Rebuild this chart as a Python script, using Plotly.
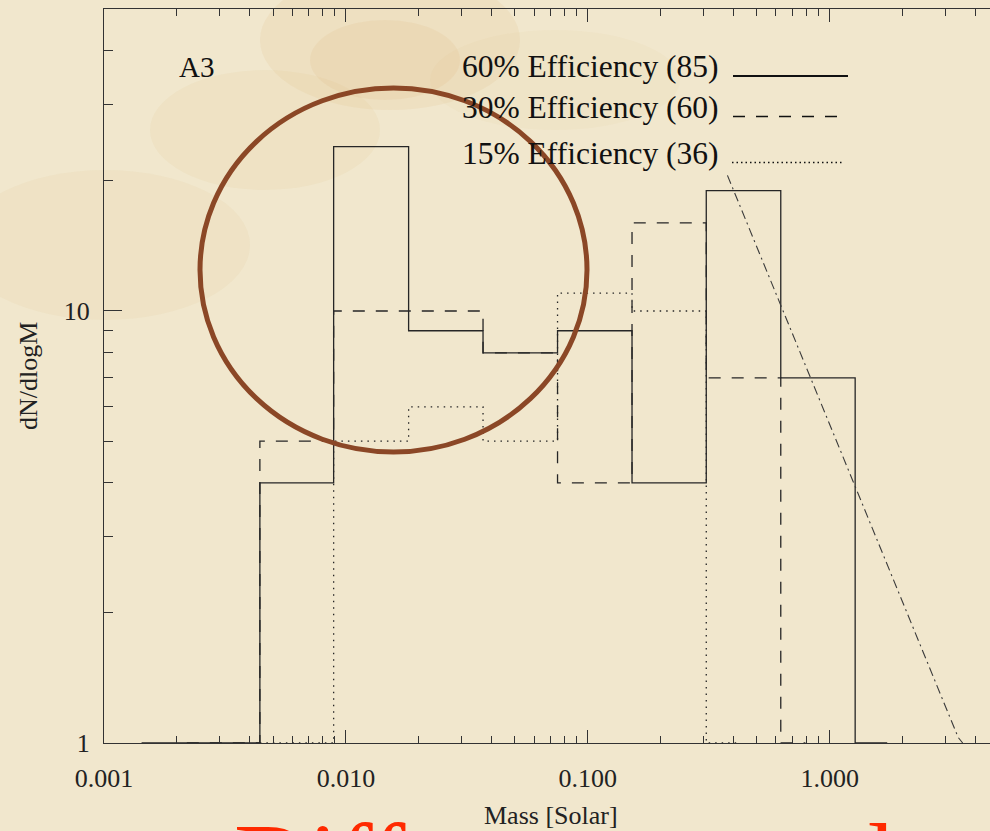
import plotly.graph_objects as go

# ---------------- data ----------------
mass_edges = [0.00441, 0.00890, 0.01817, 0.0369, 0.0750, 0.1524, 0.309, 0.628, 1.275]
n_eff60 = [4, 24, 9, 8, 9, 4, 19, 7]        # bins starting at edge 0
n_eff30 = [5, 10, 10, 8, 4, 16, 7]          # bins starting at edge 0
n_eff15 = [5, 6, 5, 11, 10]                 # bins starting at edge 1
tail60 = [0.00143, 1.73]
tail30 = [0.0022, 0.794]
tail15 = [0.00441, 0.416]

salp_mass = [0.378, 3.40, 3.55]
salp_n = [20.6, 1.03, 1.0]

legend_labels = ["60% Efficiency (85)", "30% Efficiency (60)", "15% Efficiency (36)"]
x_tickvals = [0.001, 0.01, 0.1, 1.0]
x_ticktext = ["0.001", "0.010", "0.100", "1.000"]
y_tickvals = [1, 10]
y_ticktext = ["1", "10"]

# ---------------- geometry ----------------
W, H = 990, 831
ML, MR, MT, MB = 104, 0, 9, 88
PW, PH = W - ML - MR, H - MT - MB


def px(x):
    return (x - ML) / PW


def py(y):
    return (H - MB - y) / PH


def steps(start, counts, tails):
    xs = [tails[0]] + mass_edges[start:start + len(counts) + 1] + [tails[1]]
    ys = [1] + counts + [1, 1]
    return xs, ys


INK = "#262626"
SERIF = "Liberation Serif"

fig = go.Figure()

x15, y15 = steps(1, n_eff15, tail15)
x30, y30 = steps(0, n_eff30, tail30)
x60, y60 = steps(0, n_eff60, tail60)

fig.add_trace(go.Scatter(x=x15, y=y15, mode="lines", line_shape="hv",
                         line=dict(color=INK, width=1.3, dash="1.5px,5px"), showlegend=False))
fig.add_trace(go.Scatter(x=x30, y=y30, mode="lines", line_shape="hv",
                         line=dict(color=INK, width=1.3, dash="12px,11px"), showlegend=False))
fig.add_trace(go.Scatter(x=x60, y=y60, mode="lines", line_shape="hv",
                         line=dict(color=INK, width=1.3), showlegend=False))
fig.add_trace(go.Scatter(x=salp_mass, y=salp_n, mode="lines",
                         line=dict(color="#3a3a3a", width=1.1, dash="9px,4px,2px,4px"),
                         showlegend=False))

shapes = []
# faint parchment stains
stains = [
    (260, -30, 520, 110, "rgba(214,160,80,0.09)"),
    (310, 20, 460, 100, "rgba(205,145,70,0.08)"),
    (150, 70, 380, 190, "rgba(214,165,90,0.07)"),
    (-40, 170, 250, 320, "rgba(214,170,95,0.07)"),
    (430, 30, 680, 130, "rgba(214,170,95,0.05)"),
]
for x0, y0, x1, y1, c in stains:
    shapes.append(dict(type="circle", xref="paper", yref="paper",
                       x0=px(x0), x1=px(x1), y0=py(y1), y1=py(y0),
                       fillcolor=c, line=dict(width=0), layer="below"))

# highlight circle
shapes.append(dict(type="circle", xref="paper", yref="paper",
                   x0=px(200), x1=px(587), y0=py(452), y1=py(88),
                   line=dict(color="#8B4726", width=5), layer="above"))

# legend sample lines
leg_dash = ["solid", "12px,11px", "1.5px,3px"]
leg_line_y = [76, 116.5, 162.5]
leg_line_x = [(733, 848), (733, 848), (732, 842)]
leg_line_w = [2.0, 1.6, 1.5]
for dsh, ly, (lx0, lx1), lw in zip(leg_dash, leg_line_y, leg_line_x, leg_line_w):
    shapes.append(dict(type="line", xref="paper", yref="paper",
                       x0=px(lx0), x1=px(lx1), y0=py(ly), y1=py(ly),
                       line=dict(color="#111", width=lw, dash=dsh)))

annotations = []
leg_text_y = [66.5, 107.5, 153]
for lab, ty in zip(legend_labels, leg_text_y):
    annotations.append(dict(text=lab, xref="paper", yref="paper", x=px(460), y=py(ty),
                            xanchor="left", yanchor="middle", showarrow=False,
                            font=dict(family=SERIF, size=31.5, color="#111")))
annotations.append(dict(text="A3", xref="paper", yref="paper", x=px(177), y=py(66.5),
                        xanchor="left", yanchor="middle", showarrow=False,
                        font=dict(family=SERIF, size=29, color="#111")))
annotations.append(dict(text="Mass [Solar]", xref="paper", yref="paper", x=px(551), y=py(815),
                        xanchor="center", yanchor="middle", showarrow=False,
                        font=dict(family=SERIF, size=26, color="#222")))
annotations.append(dict(text="dN/dlogM", xref="paper", yref="paper", x=px(28), y=py(376),
                        xanchor="center", yanchor="middle", showarrow=False, textangle=-90,
                        font=dict(family=SERIF, size=26, color="#222")))
annotations.append(dict(text="Differences and", xref="paper", yref="paper", x=px(232), y=py(800),
                        xanchor="left", yanchor="top", showarrow=False,
                        font=dict(family=SERIF, size=104, color="#ff2a00")))

x_minor = [m * 10.0 ** e for e in range(-3, 1) for m in range(2, 10)]
y_minor = [m * 10.0 ** e for e in range(0, 2) for m in range(2, 10) if m * 10.0 ** e < 50]

fig.update_layout(
    width=W, height=H,
    margin=dict(l=ML, r=MR, t=MT, b=MB, pad=0),
    paper_bgcolor="#f1e7cd",
    plot_bgcolor="rgba(0,0,0,0)",
    shapes=shapes,
    annotations=annotations,
    showlegend=False,
    xaxis=dict(type="log", range=[-3, 0.663], showgrid=False, zeroline=False,
               showline=True, linecolor="#333", linewidth=1.3, mirror="allticks",
               ticks="inside", ticklen=13, tickwidth=1.1, tickcolor="#333",
               tickmode="array", tickvals=x_tickvals, ticktext=x_ticktext,
               ticklabelstandoff=12,
               tickfont=dict(family=SERIF, size=26, color="#222"),
               minor=dict(tickmode="array", tickvals=x_minor, ticks="inside",
                          ticklen=7, tickwidth=1.1, tickcolor="#333", showgrid=False)),
    yaxis=dict(type="log", range=[0, 1.699], showgrid=False, zeroline=False,
               showline=True, linecolor="#333", linewidth=1.3, mirror=False,
               ticks="inside", ticklen=18, tickwidth=1.1, tickcolor="#333",
               tickmode="array", tickvals=y_tickvals, ticktext=y_ticktext,
               ticklabelstandoff=8,
               tickfont=dict(family=SERIF, size=26, color="#222"),
               minor=dict(tickmode="array", tickvals=y_minor, ticks="inside",
                          ticklen=9, tickwidth=1.1, tickcolor="#333", showgrid=False)),
)

fig.write_html("out.html")
